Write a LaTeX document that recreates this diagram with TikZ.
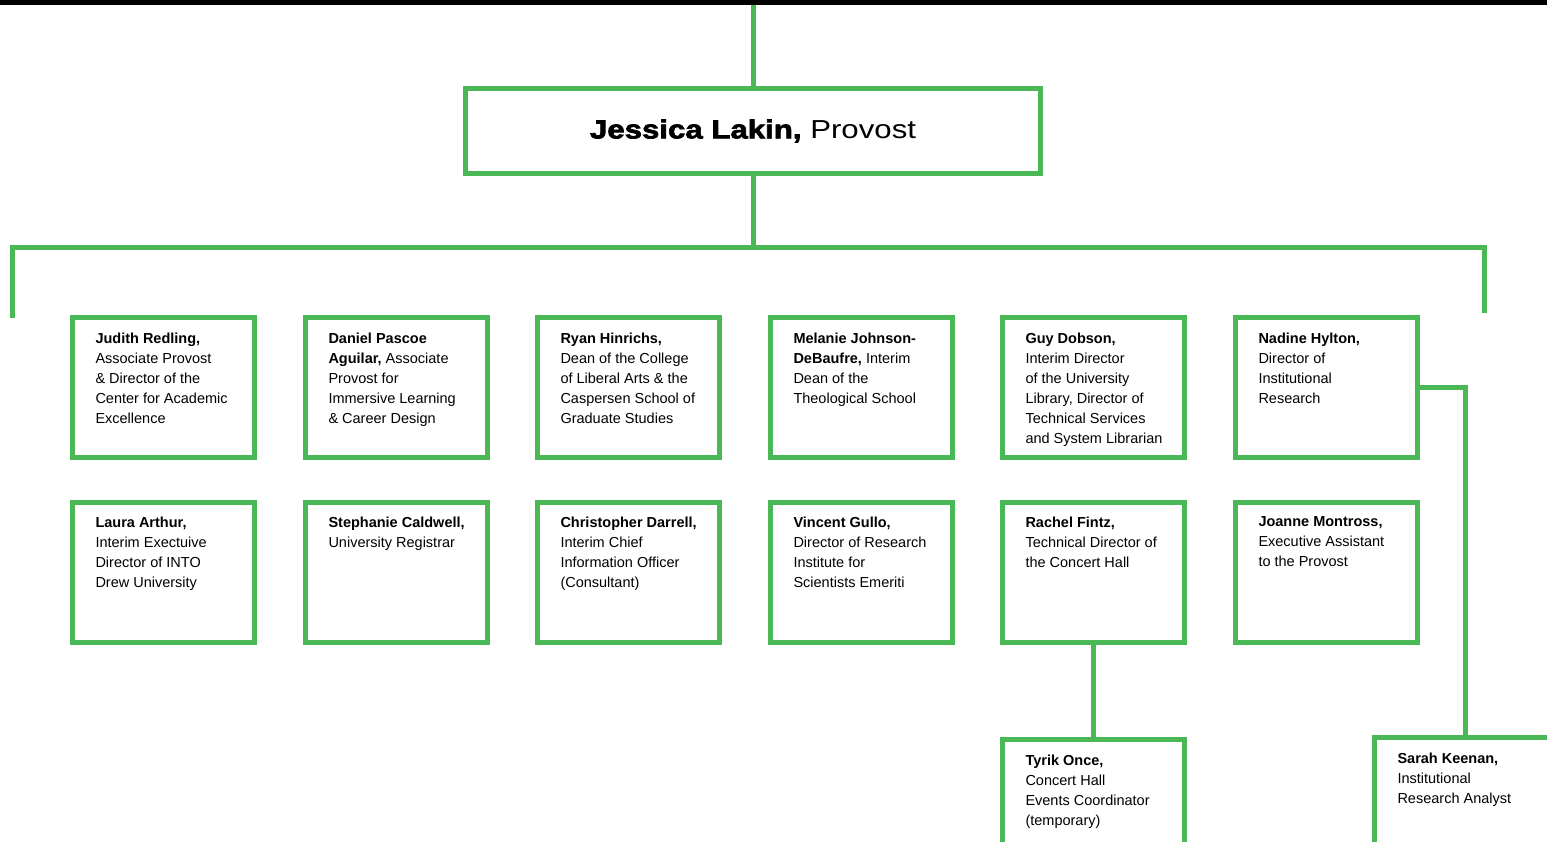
\documentclass[tikz,border=0pt]{standalone}
\usepackage{fontspec}
\setmainfont{Liberation Sans}
\newfontfamily\titlefont{Liberation Sans}[FakeStretch=1.2,BoldFeatures={FakeBold=2.5}]
\definecolor{orggreen}{HTML}{4BB857}
\newcommand{\person}[1]{\parbox[t][110pt][t]{136pt}{\raggedright #1}}
\begin{document}
\begin{tikzpicture}[x=1pt,y=-1pt,
	boss/.style={draw=orggreen,line width=5pt,minimum width=575pt,minimum height=85pt,inner sep=0pt,font=\titlefont\fontsize{26}{30}\selectfont},
	staff/.style={draw=orggreen,line width=5pt,minimum width=182pt,minimum height=140pt,inner xsep=23pt,inner ysep=15pt,font=\fontsize{14.5}{20}\selectfont},
	link/.style={draw=orggreen,line width=5pt}]
		\useasboundingbox (0,0) rectangle (1547,841);
		\clip (0,0) rectangle (1547,841);
		\fill[black] (0,0) rectangle (1547,5);
		\node[boss] (provost) at (753,131) {\textbf{Jessica Lakin,} Provost};
		\node[staff] (judith) at (163.5,387.5) {\person{\textbf{Judith Redling,}\\Associate Provost\\\& Director of the\\Center for Academic\\Excellence}};
		\node[staff] (daniel) at (396.5,387.5) {\person{\textbf{Daniel Pascoe}\\\textbf{Aguilar,} Associate\\Provost for\\Immersive Learning\\\& Career Design}};
		\node[staff] (ryan) at (628.5,387.5) {\person{\textbf{Ryan Hinrichs,}\\Dean of the College\\of Liberal Arts \& the\\Caspersen School of\\Graduate Studies}};
		\node[staff] (melanie) at (861.5,387.5) {\person{\textbf{Melanie Johnson-}\\\textbf{DeBaufre,} Interim\\Dean of the\\Theological School}};
		\node[staff] (guy) at (1093.5,387.5) {\person{\textbf{Guy Dobson,}\\Interim Director\\of the University\\Library, Director of\\Technical Services\\\mbox{and System Librarian}}};
		\node[staff] (nadine) at (1326.5,387.5) {\person{\textbf{Nadine Hylton,}\\Director of\\Institutional\\Research}};
		\node[staff] (laura) at (163.5,572) {\person{\textbf{Laura Arthur,}\\Interim Exectuive\\Director of INTO\\Drew University}};
		\node[staff] (stephanie) at (396.5,572) {\person{\mbox{\textbf{Stephanie Caldwell,}}\\University Registrar}};
		\node[staff] (christopher) at (628.5,572) {\person{\mbox{\textbf{Christopher Darrell,}}\\Interim Chief\\Information Officer\\(Consultant)}};
		\node[staff] (vincent) at (861.5,572) {\person{\textbf{Vincent Gullo,}\\Director of Research\\Institute for\\Scientists Emeriti}};
		\node[staff] (rachel) at (1093.5,572) {\person{\textbf{Rachel Fintz,}\\Technical Director of\\the Concert Hall}};
		\node[staff] (joanne) at (1326.5,572) {\person{\textbf{Joanne Montross,}\\Executive Assistant\\to the Provost}};
		\node[staff] (tyrik) at (1093.5,809.5) {\person{\textbf{Tyrik Once,}\\Concert Hall\\Events Coordinator\\(temporary)}};
		\node[staff] (sarah) at (1465.5,807.5) {\person{\textbf{Sarah Keenan,}\\Institutional\\Research Analyst}};
		\coordinate (topedge) at (753,5);
		\coordinate (bus) at (753,247.5);
		\coordinate (leftend) at (12.5,318);
		\coordinate (rightend) at (1484.5,313);
		\draw[link] (topedge) -- (provost.north);
		\draw[link] (provost.south) -- (bus);
		\draw[link] (leftend) |- (bus) -| (rightend);
		\draw[link] (rachel.south) -- (tyrik.north);
		\draw[link] (nadine.east) -| (sarah.north);
\end{tikzpicture}
\end{document}
